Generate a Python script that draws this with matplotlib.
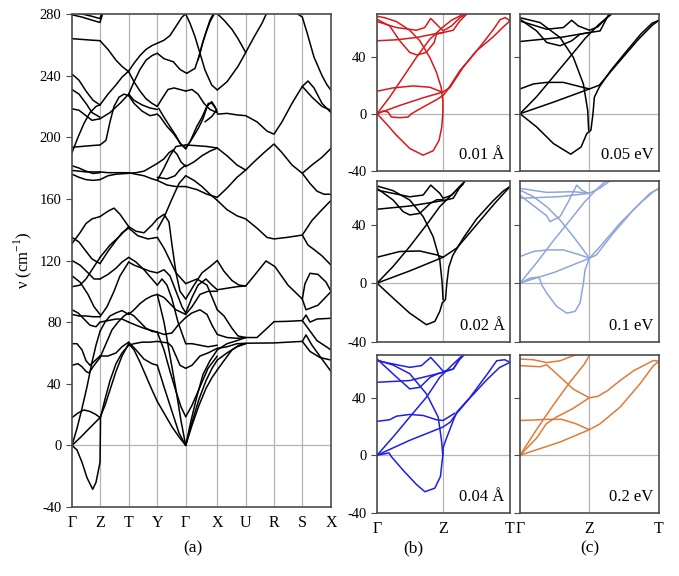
import matplotlib
matplotlib.use("Agg")
import matplotlib.pyplot as plt

plt.rcParams['font.family'] = ['Liberation Serif', 'DejaVu Serif']
plt.rcParams['mathtext.fontset'] = 'custom'
plt.rcParams['mathtext.rm'] = 'Liberation Serif'
plt.rcParams['axes.unicode_minus'] = False

# ---- panel (a): high-symmetry path ----
kpath_pos = [0, 28, 56.7, 85.3, 113.7, 145.3, 173.7, 202, 230.3, 259]
kpath_labels = ['Γ', 'Z', 'T', 'Y', 'Γ', 'X', 'U', 'R', 'S', 'X']
a_yticks = [-40, 0, 40, 80, 120, 160, 200, 240, 280]

# branches, grouped by path segment (k, frequency in cm-1)
bands_GZ = [
    [(0, 0), (5, -3), (10, -11), (15, -21), (20.7, -28.5), (24, -24), (26.5, -16), (28, -11), (28.3, 5), (28.5, 18)],
    [(0, 0), (9, 5.5), (18, 11.5), (28, 18)],
    [(0, 0), (5, 11), (10, 24), (15, 38), (20, 54), (24, 65), (28, 74)],
    [(0, 18), (6, 21), (12, 23), (18, 22), (24, 20), (28, 18)],
    [(0, 52), (6, 53), (10, 51), (14, 48), (17, 47), (21, 51), (28, 57)],
    [(0, 66), (5, 66), (10, 62), (14, 55), (18, 52), (23, 55), (28, 58)],
    [(0, 85), (7, 84), (14, 84), (21, 83.5), (28, 83.5)],
    [(0, 88), (6, 86), (12, 82), (18, 78), (24, 77), (28, 80)],
    [(0, 110), (8, 106), (16, 98), (22, 90), (28, 85)],
    [(0, 120), (8, 117), (16, 112), (22, 108), (28, 108)],
    [(0, 103), (8, 104), (14, 108), (20, 114), (28, 122)],
    [(0, 135), (7, 132), (14, 126), (20, 121), (28, 118)],
    [(0, 131), (8, 138), (14, 144), (20, 147), (28, 148.5)],
    [(0, 176), (7, 174), (14, 172.5), (21, 172), (28, 172.5)],
    [(0, 178.5), (7, 178), (14, 177.5), (28, 177.5)],
    [(0, 181.5), (7, 180), (14, 178), (21, 176.5), (28, 177)],
    [(0, 190), (6, 200), (12, 209), (18, 216), (24, 220), (28, 221)],
    [(0, 193.5), (9, 194), (18, 194.5), (28, 195)],
    [(0, 218.5), (7, 217.5), (14, 214), (20, 211), (28, 212)],
    [(0, 231), (7, 228), (14, 222), (20, 216), (28, 213)],
    [(0, 241), (7, 237), (14, 230), (21, 224), (28, 221)],
    [(0, 264), (10, 263.5), (20, 263), (28, 262.7)],
    [(0, 279.5), (10, 278), (20, 276), (28, 274.5), (31, 281)],
    [(0, 281), (10, 280), (20, 278.5), (28, 277), (30, 281)],
]

bands_ZT = [
    [(28.5, 18), (33, 30), (38, 42), (44, 53), (50, 60), (56.7, 65)],
    [(28, 18), (33, 26), (38, 36), (44, 48), (50, 58), (56.7, 66)],
    [(28, 57), (34, 66), (40, 75), (46, 80), (52, 84), (56.7, 86)],
    [(28, 74), (33, 80), (38, 84), (44, 86), (50, 87.5), (56.7, 85)],
    [(28, 58), (36, 58), (44, 60), (50, 64), (56.7, 67)],
    [(28, 80), (36, 81), (44, 82), (50, 82), (56.7, 80)],
    [(28, 83.5), (35, 90), (42, 100), (48, 110), (56.7, 119)],
    [(28, 108), (36, 111), (44, 115), (50, 119), (56.7, 122)],
    [(28, 118), (36, 126), (44, 133), (50, 138), (56.7, 141)],
    [(28, 148.5), (36, 152), (42, 154), (48, 150), (56.7, 142)],
    [(28, 122), (38, 130), (48, 136), (56.7, 142)],
    [(28, 172.5), (36, 175), (44, 176), (56.7, 176.6)],
    [(28, 177.5), (36, 177), (44, 177), (56.7, 177)],
    [(28, 195), (34, 198), (38, 210), (42, 220), (47, 226), (52, 228), (56.7, 227)],
    [(28, 221), (36, 228), (44, 234), (50, 239), (56.7, 243)],
    [(28, 212), (38, 216), (48, 222), (56.7, 228)],
    [(28, 262.7), (36, 257), (44, 250), (50, 246), (56.7, 242.5)],
]

bands_TY = [
    [(56.7, 65), (62, 66), (70, 67), (78, 67), (85.3, 67.5)],
    [(56.7, 66), (62, 62), (68, 54), (74, 45), (80, 36), (85.3, 28.5)],
    [(56.7, 86), (62, 84), (68, 80), (74, 76), (80, 74), (85.3, 73.5)],
    [(56.7, 85), (62, 88), (68, 92), (74, 95), (80, 97), (85.3, 98)],
    [(56.7, 67), (64, 62), (72, 56), (80, 53), (85.3, 52)],
    [(56.7, 80), (64, 78), (72, 76), (80, 74.5), (85.3, 73.5)],
    [(56.7, 119), (62, 117), (70, 115), (78, 113), (85.3, 112)],
    [(56.7, 122), (64, 119), (72, 114), (80, 108), (85.3, 104)],
    [(56.7, 142), (64, 139), (72, 138), (80, 143), (85.3, 147)],
    [(56.7, 141), (66, 136), (76, 134), (85.3, 135)],
    [(56.7, 176.6), (64, 177), (72, 178), (80, 181), (85.3, 183)],
    [(56.7, 177), (64, 176), (72, 175), (80, 173), (85.3, 172)],
    [(56.7, 228), (62, 224), (70, 221), (78, 219), (85.3, 218)],
    [(56.7, 227), (62, 222), (70, 217), (78, 214), (85.3, 215)],
    [(56.7, 242.5), (62, 236), (68, 230), (74, 225), (80, 222), (85.3, 220)],
    [(56.7, 243), (62, 248), (68, 253), (74, 257), (80, 259.5), (85.3, 261)],
    [(56.7, 228), (62, 236), (68, 244), (74, 250), (80, 253), (85.3, 254.5)],
]

bands_YG = [
    [(85.3, 28.5), (92, 21), (100, 12), (107, 5.5), (113.7, 0)],
    [(85.3, 52), (92, 38), (100, 22), (107, 8), (113.7, 0)],
    [(85.3, 98), (92, 80), (98, 58), (104, 36), (109, 16), (113.7, 0)],
    [(85.3, 73.5), (92, 62), (98, 48), (104, 35), (109, 25), (113.7, 18.6)],
    [(85.3, 67.5), (90, 67), (96, 66.5), (100, 64), (104, 58), (108, 52), (113.7, 50)],
    [(85.3, 73.5), (92, 72), (100, 73), (106, 78), (113.7, 83)],
    [(85.3, 98), (92, 96), (98, 92), (104, 88), (113.7, 85)],
    [(85.3, 112), (92, 114), (98, 110), (104, 100), (110, 90), (113.7, 86)],
    [(85.3, 104), (90, 108), (95, 104), (100, 95), (106, 80), (113.7, 66)],
    [(85.3, 147), (92, 150), (97, 145), (100, 130), (104, 112), (108, 100), (113.7, 95)],
    [(85.3, 135), (92, 128), (98, 120), (104, 112), (113.7, 105)],
    [(85.3, 172), (95, 169), (104, 168), (113.7, 168)],
    [(85.3, 140), (92, 148), (100, 160), (107, 170), (113.7, 175)],
    [(85.3, 183), (92, 186), (97, 190), (101, 191.7), (105, 189), (109, 184), (113.7, 181)],
    [(85.3, 174), (95, 173), (103, 175), (108, 179), (113.7, 182)],
    [(86.7, 218.8), (92, 213), (98, 206.9), (104, 201), (108, 196), (113.7, 192.5)],
    [(85.3, 215), (88, 213.4), (95, 207), (101.3, 202.5), (109.7, 195), (113.7, 193)],
    [(85.3, 172), (92, 180), (98, 188), (104, 194), (113.7, 195)],
    [(85.3, 261), (92, 263), (98, 266), (104, 272), (110, 278), (113.7, 280)],
    [(85.3, 254.5), (92, 251), (101.3, 249), (108, 244), (114.7, 241.5)],
    [(85.3, 220), (90, 225), (96, 231), (102, 232), (108, 231), (113.7, 230)],
]

bands_GX = [
    [(113.7, 0), (120, 13), (127, 26), (134, 37), (140, 44), (145.3, 49)],
    [(113.7, 0), (120, 15), (127, 30), (134, 42), (140, 50), (145.3, 55.4)],
    [(113.7, 0), (119, 16), (125, 32), (131, 46), (138, 55), (145.3, 62)],
    [(113.7, 18.6), (120, 26), (128, 38), (136, 50), (145.3, 58)],
    [(113.7, 50), (120, 52), (128, 58), (136, 60), (145.3, 63)],
    [(113.7, 66), (120, 66), (128, 65), (136, 64), (145.3, 65)],
    [(113.7, 83), (120, 86), (128, 88), (135, 85), (140, 78), (145.3, 72)],
    [(113.7, 85), (120, 90), (128, 98), (136, 100), (145.3, 100)],
    [(113.7, 86), (120, 96), (126, 104), (134, 108), (140, 104), (145.3, 101)],
    [(113.7, 95), (122, 104), (130, 112), (138, 116), (145.3, 120)],
    [(113.7, 105), (125, 108), (135, 104), (145.3, 88)],
    [(113.7, 168), (125, 166), (135, 163), (145.3, 161)],
    [(113.7, 175), (122, 172), (130, 168), (138, 163), (145.3, 159)],
    [(113.7, 181), (122, 184), (130, 188), (138, 191), (145.3, 193)],
    [(113.7, 195), (125, 194.5), (135, 194), (145.3, 193)],
    [(113.7, 192.5), (118, 197), (124.7, 206.9), (130, 213), (134.7, 219.8), (139.7, 223.1), (143, 219.8), (145.3, 216)],
    [(113.7, 193), (120, 199), (126.3, 205.8), (131, 212), (136.3, 222), (140, 222), (144.7, 217.7), (139.7, 213.4), (133, 210)],
    [(113.7, 230), (120, 231), (126, 228), (132, 222), (138, 218), (145.3, 216)],
    [(113.7, 280), (118, 274), (123, 265.3), (128, 254.5), (133, 243.6), (139.7, 233.9), (145.3, 230.7)],
    [(114.7, 241.5), (123, 244.7), (128, 254.5), (131, 262), (134.7, 269.6), (138, 276), (142, 281)],
    [(126, 250), (130, 260), (134, 268), (138, 275), (143, 281)],
]

bands_XUX = [
    [(145.3, 215), (155, 215.5), (165, 214.5), (173.7, 214), (185, 210), (195, 204), (202, 202), (210, 210),
     (220, 222), (230.3, 233), (236, 236.5), (242, 232), (250, 222), (259, 216)],
    [(230.3, 233), (240, 226), (250, 220), (259, 217.5)],
    [(145.3, 193), (155, 188), (165, 182), (173.7, 178.7), (182, 184), (192, 190), (202, 195.6), (210, 190),
     (220, 182), (230.3, 176.6), (240, 182), (250, 187), (259, 192.8)],
    [(145.3, 161), (155, 167), (165, 174), (173.7, 178.7)],
    [(230.3, 176.6), (238, 170), (245, 165), (252, 163), (259, 163)],
    [(145.3, 159), (155, 153), (165, 149), (173.7, 147), (185, 141), (195, 135), (202, 134), (215, 135),
     (230.3, 136.5), (240, 146), (250, 153), (259, 159)],
    [(230.3, 136.5), (236, 130), (242.7, 126.8), (250, 123), (259, 117)],
    [(145.3, 101), (155, 102), (165, 103), (173.7, 103.5), (182, 110), (194, 119.7), (203, 116), (216, 104), (230.3, 95)],
    [(145.3, 120), (152, 113), (160, 107), (167, 104), (173.7, 103.5)],
    [(230.3, 95), (233, 105), (238, 111.7), (246, 111), (254, 106), (259, 100)],
    [(230.3, 95), (234, 88), (246, 91), (259, 99.8)],
    [(145.3, 72), (155, 70), (165, 69.5), (173.7, 70), (185, 70), (195, 76), (202, 80.3), (215, 80.5),
     (230.3, 81), (234, 84.6), (238, 80), (245, 82), (259, 82.5)],
    [(145.3, 63), (155, 64), (165, 66), (173.7, 66.3), (202, 66.5), (230.3, 67.5), (234, 71.7), (240, 65),
     (250, 56), (259, 48)],
    [(230.3, 67.5), (238, 61), (248, 57), (259, 55.4)],
    [(230.3, 81), (236, 76), (245, 68), (259, 62)],
    [(145.3, 49), (152, 55), (160, 62), (167, 65), (173.7, 66)],
    [(145.3, 55.4), (155, 60), (165, 64), (173.7, 66)],
    [(145.3, 62), (155, 66), (165, 68), (173.7, 70)],
    [(145.3, 88), (152, 84), (160, 76), (166, 71), (173.7, 70)],
    [(145.3, 230.7), (155, 236), (166, 246), (173.7, 255), (182, 265), (190, 274), (195, 281)],
    [(144, 281), (152, 276), (160, 270), (166, 264), (173.7, 255)],
    [(224, 281), (228, 279), (230.3, 278), (235, 268), (242, 252), (250, 240), (255, 234), (259, 230.5)],
]

# ---- panels (b) and (c): Γ-Z-T, k as fraction of path ----
small_ticks = ['Γ', 'Z', 'T']
small_tick_pos = [0, 0.497, 1.0]

curves_001 = [
    [(0, 0), (0.07, -7), (0.146, -15.1), (0.246, -24.4), (0.347, -29.1), (0.422, -26), (0.467, -18.6), (0.487, -9.3),
     (0.495, 0), (0.495, 9.3), (0.482, 18.6), (0.447, 29.1), (0.397, 39.5), (0.322, 51.2), (0.246, 58.6),
     (0.146, 64.7), (0.058, 67.4), (0, 68.4)],
    [(0, 0), (0.171, 5.8), (0.347, 11.2), (0.492, 15.1)],
    [(0, 0), (0.045, 1.9), (0.083, 1.2), (0.108, -2.3), (0.171, -2.8), (0.234, -2.3), (0.259, 0), (0.347, 4.7),
     (0.447, 9.8), (0.497, 12.8), (0.527, 16.3), (0.623, 30.2), (0.749, 44.2), (0.874, 54), (0.95, 61), (1.0, 65.1)],
    [(0, 0), (0.095, 11.6), (0.196, 25.6), (0.296, 39.5), (0.397, 52.3), (0.485, 60), (0.56, 65.6), (0.648, 69.8)],
    [(0, 15.8), (0.121, 18.1), (0.271, 19.5), (0.397, 18.6), (0.492, 15.1), (0.548, 18.3), (0.648, 32.6),
     (0.774, 47), (0.874, 59), (0.925, 66), (0.965, 67.5), (1.0, 65.1)],
    [(0, 51.2), (0.146, 51.9), (0.296, 53.5), (0.447, 56.3), (0.497, 57), (0.573, 58.6), (0.623, 65.1), (0.673, 69.8)],
    [(0, 66.3), (0.095, 61.6), (0.171, 51.2), (0.246, 43), (0.302, 41.2), (0.37, 43), (0.43, 50), (0.447, 55.8), (0.497, 57)],
    [(0, 64.7), (0.146, 60.5), (0.296, 58.6), (0.359, 60.5), (0.404, 66.9), (0.46, 61.6), (0.497, 58.1),
     (0.56, 61.6), (0.623, 67.4), (0.668, 69.8)],
]

curves_002 = [
    [(0, 0), (0.121, -10.2), (0.246, -20.5), (0.372, -28.4), (0.435, -26.1), (0.472, -19.3), (0.492, -13.2),
     (0.503, -12.5), (0.515, -11), (0.525, 0), (0.54, 11), (0.57, 19), (0.65, 31), (0.75, 44), (0.87, 56),
     (0.95, 63), (1, 66)],
    [(0, 66.4), (0.121, 63.2), (0.246, 56.8), (0.347, 45.5), (0.422, 31.8), (0.472, 15.9), (0.49, 0), (0.497, -11.4)],
    [(0, 0), (0.25, 8.5), (0.497, 17.7), (0.6, 24), (0.75, 40), (0.88, 54), (1, 66)],
    [(0, 17.7), (0.17, 21.6), (0.32, 22), (0.45, 19.3), (0.497, 17.7)],
    [(0, 0), (0.121, 11.4), (0.246, 25), (0.372, 39.8), (0.472, 52.3), (0.573, 61.4), (0.648, 67.7)],
    [(0, 50.5), (0.246, 52.7), (0.497, 56.4), (0.573, 58), (0.62, 65), (0.66, 69.5)],
    [(0, 64.8), (0.121, 56.8), (0.196, 48.9), (0.246, 46.6), (0.322, 47.7), (0.4, 54.5), (0.45, 57), (0.497, 57)],
    [(0, 63.6), (0.246, 59), (0.347, 60.2), (0.404, 67), (0.472, 61.4), (0.497, 58), (0.56, 60), (0.62, 66), (0.66, 69.5)],
]

curves_004 = [
    [(0, 0), (0.09, 1.6), (0.11, -1.2), (0.196, -10.4), (0.296, -20.3), (0.36, -25.4), (0.435, -22.9),
     (0.477, -14.8), (0.495, 0), (0.497, 5), (0.505, 7.4), (0.525, 12.5), (0.573, 24), (0.6, 30), (0.7, 40.4),
     (0.83, 56.6), (0.9, 65.8), (0.96, 66.5), (1, 64.7)],
    [(0, 66.3), (0.121, 62.8), (0.246, 56.8), (0.372, 42.7), (0.46, 26.6), (0.485, 10.4), (0.495, 0)],
    [(0, 0), (0.246, 10.4), (0.495, 19.6), (0.55, 23), (0.6, 29.3), (0.7, 40), (0.82, 52), (0.92, 61), (1, 64.7)],
    [(0, 23.6), (0.095, 24.7), (0.146, 27.2), (0.246, 28.4), (0.347, 27.7), (0.447, 24.7), (0.497, 24.2), (0.585, 29.3)],
    [(0, 0), (0.121, 12.7), (0.246, 26.6), (0.372, 40.4), (0.472, 54.3), (0.573, 63.5), (0.648, 70)],
    [(0, 50.8), (0.246, 52), (0.497, 57.7), (0.573, 60), (0.62, 67), (0.655, 70)],
    [(0, 67), (0.121, 56.6), (0.246, 46.2), (0.322, 47.3), (0.4, 54.3), (0.47, 57.3), (0.497, 57.7)],
    [(0, 65.8), (0.246, 61.2), (0.334, 62.4), (0.404, 68.1), (0.472, 61.2), (0.497, 58.4), (0.573, 60), (0.62, 66.5), (0.655, 70)],
]

curves_005 = [
    [(0, 0), (0.12, -9.3), (0.24, -20.9), (0.365, -28.4), (0.44, -23.3), (0.48, -14), (0.495, -12.8),
     (0.51, -11.6), (0.525, 0), (0.535, 11.6), (0.57, 18.6), (0.65, 30), (0.75, 42), (0.87, 56), (0.95, 63.5), (1, 65.6)],
    [(0, 67.4), (0.144, 64), (0.288, 53.5), (0.384, 39.5), (0.456, 20.9), (0.487, 2.3), (0.494, -11.6)],
    [(0, 0), (0.24, 8.1), (0.499, 17.4), (0.57, 20), (0.7, 35), (0.85, 52), (0.95, 62), (1, 65.6)],
    [(0, 17.4), (0.096, 20.9), (0.192, 22), (0.312, 22), (0.432, 19), (0.499, 17.4)],
    [(0, 0), (0.12, 12), (0.24, 26), (0.36, 40), (0.47, 53), (0.56, 62), (0.65, 69.5)],
    [(0, 50.7), (0.288, 53.5), (0.499, 57), (0.576, 58.1), (0.64, 70)],
    [(0, 66.3), (0.12, 58.1), (0.192, 50), (0.288, 47.7), (0.372, 51.2), (0.432, 55.8), (0.499, 57)],
    [(0, 65.1), (0.192, 59.3), (0.312, 60.5), (0.372, 65.6), (0.42, 61.6), (0.5, 58.6), (0.56, 61), (0.62, 67), (0.66, 70)],
]

curves_01 = [
    [(0, 0), (0.072, 3.4), (0.132, 4.1), (0.144, 2.3), (0.156, -1.1), (0.192, -6.8), (0.264, -15.9), (0.336, -20.5),
     (0.396, -19.3), (0.432, -13.6), (0.456, 0), (0.468, 9), (0.49, 14.8), (0.499, 17)],
    [(0, 0), (0.25, 7.5), (0.499, 17)],
    [(0, 18.2), (0.096, 21.6), (0.192, 22.7), (0.312, 22.7), (0.432, 19.3), (0.499, 17)],
    [(0, 0), (0.12, 14), (0.24, 29), (0.36, 43), (0.46, 55), (0.55, 64), (0.62, 70)],
    [(0, 63.6), (0.096, 59.1), (0.192, 52.3), (0.288, 43.2), (0.384, 31.8), (0.456, 22.7), (0.499, 17)],
    [(0, 60), (0.096, 53), (0.192, 46), (0.216, 42), (0.288, 45.5), (0.348, 55.7), (0.408, 67), (0.444, 63.6), (0.499, 61)],
    [(0, 58), (0.288, 59.1), (0.499, 61.4), (0.576, 65), (0.648, 70)],
    [(0, 64.8), (0.192, 62), (0.384, 62.5), (0.499, 61.4)],
    [(0.499, 17), (0.576, 25), (0.72, 41), (0.863, 54.5), (0.96, 62.5), (1, 64.8)],
    [(0.499, 17), (0.55, 19.3), (0.67, 34), (0.815, 50), (0.935, 61.4), (1, 64.8)],
]

curves_02 = [
    [(0, 0), (0.288, 9.2), (0.499, 17.8), (0.576, 21.9), (0.72, 33.5), (0.863, 49.7), (0.96, 62.4), (1, 65.4)],
    [(0, 0), (0.12, 12), (0.19, 22), (0.26, 26.5), (0.38, 32.5), (0.499, 40)],
    [(0, 0), (0.12, 18), (0.24, 35), (0.36, 51), (0.46, 63), (0.5, 69.5)],
    [(0, 24.2), (0.1, 24.5), (0.19, 25), (0.3, 25), (0.4, 22), (0.499, 17.8)],
    [(0.499, 40), (0.56, 41), (0.63, 45), (0.72, 52), (0.82, 59), (0.91, 63.5), (0.96, 66), (1, 65.4)],
    [(0, 62.4), (0.144, 61.6), (0.192, 63), (0.26, 57), (0.384, 46), (0.499, 40)],
    [(0, 67), (0.096, 66.5), (0.192, 64.5), (0.29, 65.8), (0.36, 68.5), (0.42, 70.5)],
]

small_panels = [
    # (curves, colour, label, column, row)
    (curves_001, '#d7191c', '0.01 Å', 0, 0),
    (curves_002, 'black', '0.02 Å', 0, 1),
    (curves_004, '#1f1fe6', '0.04 Å', 0, 2),
    (curves_005, 'black', '0.05 eV', 1, 0),
    (curves_01, '#8ea6dc', '0.1 eV', 1, 1),
    (curves_02, '#e07b39', '0.2 eV', 1, 2),
]

W, H = 679, 576
fig = plt.figure(figsize=(W / 100, H / 100), dpi=100)

spine_col = '#4a4a4a'
grid_col = '#b4b4b4'


def px_axes(x0, y0, x1, y1):
    return fig.add_axes([x0 / W, 1 - y1 / H, (x1 - x0) / W, (y1 - y0) / H])


def style(ax):
    for s in ax.spines.values():
        s.set_color(spine_col)
        s.set_linewidth(1.2)
    ax.tick_params(axis='y', direction='out', length=4, width=0.8, color=spine_col, labelsize=10.5)
    ax.tick_params(axis='x', length=0, labelsize=11.5, pad=6)


# panel (a)
ax = px_axes(72, 14, 331, 507)
style(ax)
for k in kpath_pos[1:-1]:
    ax.axvline(k, color=grid_col, lw=0.9, zorder=0)
ax.axhline(0, color=grid_col, lw=0.9, zorder=0)
for group in (bands_GZ, bands_ZT, bands_TY, bands_YG, bands_GX, bands_XUX):
    for band in group:
        ks = [p[0] for p in band]
        fs = [p[1] for p in band]
        ax.plot(ks, fs, color='black', lw=1.1, solid_joinstyle='round', solid_capstyle='round')
ax.set_xlim(kpath_pos[0], kpath_pos[-1])
ax.set_ylim(-40, 280)
ax.set_yticks(a_yticks)
ax.set_xticks(kpath_pos)
ax.set_xticklabels(kpath_labels)
ax.set_ylabel('ν (cm$^{-1}$)', fontsize=12, labelpad=4)

# panels (b) and (c)
col_x = [(377, 510), (520, 659)]
row_y = [(14, 170.7), (180.7, 341.7), (354.7, 512.7)]
for curves, colour, label, col, row in small_panels:
    x0, x1 = col_x[col]
    y0, y1 = row_y[row]
    sax = px_axes(x0, y0, x1, y1)
    style(sax)
    sax.axvline(small_tick_pos[1], color=grid_col, lw=0.9, zorder=0)
    sax.axhline(0, color=grid_col, lw=0.9, zorder=0)
    for c in curves:
        sax.plot([p[0] for p in c], [p[1] for p in c], color=colour, lw=1.1,
                 solid_joinstyle='round', solid_capstyle='round')
    sax.set_xlim(0, 1)
    sax.set_ylim(-40, 70)
    sax.set_yticks([-40, 0, 40])
    if col == 1:
        sax.set_yticklabels([])
    sax.set_xticks(small_tick_pos)
    if row == 2:
        sax.set_xticklabels(small_ticks)
    else:
        sax.set_xticklabels([])
    sax.text(0.96, 0.05, label, transform=sax.transAxes, ha='right', va='bottom', fontsize=12)

fig.text(193 / W, 1 - 548 / H, '(a)', ha='center', va='center', fontsize=12.5)
fig.text(413 / W, 1 - 548 / H, '(b)', ha='center', va='center', fontsize=12.5)
fig.text(590 / W, 1 - 548 / H, '(c)', ha='center', va='center', fontsize=12.5)

fig.savefig('out.png', dpi=100)
